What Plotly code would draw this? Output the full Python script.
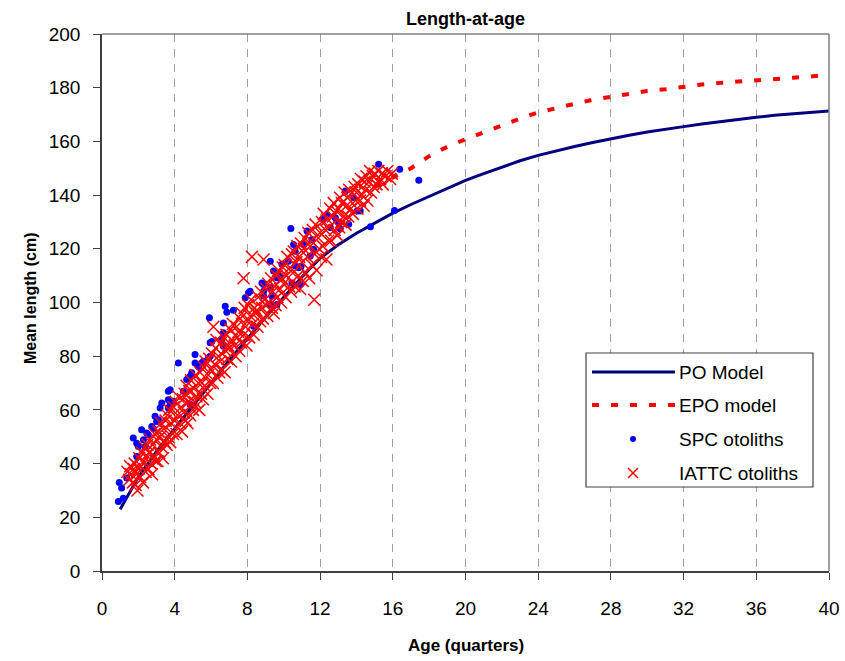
import plotly.graph_objects as go

# ---------------- data ----------------
po_age = list(range(1, 41))
po_len = [23, 35, 44.5, 53, 61.5, 70, 78.5, 86.5, 94.5, 102, 109.5, 116.5,
          121.5, 125.8, 129.5, 133.3, 136.5, 139.5, 142.5, 145.5, 148, 150.5,
          152.8, 154.8, 156.5, 158.1, 159.6, 161, 162.3, 163.5, 164.6, 165.5,
          166.5, 167.4, 168.2, 169, 169.7, 170.3, 170.8, 171.3]

epo_age = list(range(15, 41))
epo_len = [143, 146.5, 150, 154.5, 158, 160.8, 163.5, 166, 168.5, 170.8,
           172.5, 174, 175.5, 176.5, 177.8, 178.8, 179.4, 180.4, 181.2, 181.8,
           182.2, 182.8, 183.2, 183.7, 184.2, 184.8]

spc_age = [0.90, 1.17, 0.95, 1.08, 1.36, 1.72, 1.91, 2.00, 1.91, 2.18, 2.28, 2.37,
           2.46, 2.55, 2.74, 2.83, 2.92, 3.01, 3.10, 3.20, 3.29, 3.65, 3.75, 3.65,
           3.65, 3.75, 3.93, 4.20, 4.48, 4.66, 4.75, 4.85, 4.94, 4.85, 5.12, 5.12,
           5.31, 5.49, 5.58, 5.86, 5.95, 5.95, 5.91, 6.04, 6.59, 6.68, 6.68, 6.78,
           6.87, 6.68, 7.23, 7.88, 8.06, 8.15, 8.34, 8.80, 8.89, 8.89, 8.89, 9.26,
           9.44, 9.63, 9.90, 9.35, 9.26, 9.63, 9.26, 9.81, 10.26, 10.45, 10.39, 10.54,
           10.63, 10.63, 10.82, 10.91, 10.95, 11.09, 11.28, 11.55, 11.46, 11.64, 12.19, 12.38,
           12.56, 12.84, 13.02, 13.11, 13.57, 13.39, 13.85, 14.03, 14.21, 14.77, 15.22, 16.09,
           16.38, 17.43]
spc_len = [25.9, 27.1, 33.0, 30.9, 34.6, 49.5, 47.6, 46.4, 42.6, 52.6, 48.9, 46.4,
           51.4, 50.7, 53.8, 53.0, 57.6, 55.7, 56.3, 60.7, 62.6, 66.9, 67.5, 63.8,
           60.7, 62.0, 63.2, 77.5, 66.9, 71.3, 71.9, 72.5, 73.8, 62.0, 80.6, 77.5,
           76.2, 77.5, 78.1, 79.4, 85.0, 80.0, 94.3, 85.5, 86.2, 83.7, 92.4, 98.6,
           96.4, 88.7, 97.1, 101.8, 103.6, 104.2, 91.2, 107.3, 102.4, 104.2, 106.7, 115.4,
           111.7, 109.2, 114.2, 102.4, 99.3, 99.3, 105.5, 109.8, 115.4, 107.3, 127.6, 121.6,
           113.6, 119.1, 112.9, 106.7, 113.5, 121.6, 126.6, 123.5, 117.3, 119.8, 131.0, 132.8,
           127.9, 131.6, 129.7, 127.5, 129.1, 141.5, 139.0, 134.1, 134.1, 128.2, 151.5, 134.3,
           149.6, 145.5]

iattc_age = [1.4, 1.5, 1.55, 1.6, 1.7, 1.75, 1.8, 1.85, 1.9, 1.95, 2.0,
             2.05, 2.1, 2.15, 2.2, 2.25, 2.3, 2.35, 2.4, 2.45,
             2.5, 2.55, 2.6, 2.65, 2.7, 2.75, 2.8, 2.85, 2.9, 2.95,
             3.0, 3.05, 3.1, 3.15, 3.2, 3.25, 3.3, 3.35, 3.4, 3.45,
             3.5, 3.55, 3.6, 3.65, 3.7, 3.75, 3.8, 3.9, 3.95,
             4.0, 4.05, 4.1, 4.15, 4.2, 4.3, 4.35, 4.4, 4.45,
             4.5, 4.55, 4.6, 4.65, 4.7, 4.75, 4.8, 4.85, 4.9, 4.95,
             5.0, 5.05, 5.1, 5.15, 5.2, 5.3, 5.35, 5.4, 5.45,
             5.5, 5.55, 5.6, 5.65, 5.7, 5.8, 5.85, 5.9, 5.95,
             6.0, 6.05, 6.1, 6.13, 6.2, 6.25, 6.3, 6.35, 6.4, 6.45,
             6.5, 6.55, 6.6, 6.7, 6.75, 6.8, 6.85, 6.9, 6.95,
             7.0, 7.05, 7.1, 7.15, 7.2, 7.3, 7.35, 7.4, 7.45,
             7.5, 7.55, 7.6, 7.65, 7.7, 7.79, 7.8, 7.85, 7.9, 7.95,
             8.0, 8.05, 8.1, 8.15, 8.25, 8.2, 8.3, 8.35, 8.4, 8.45,
             8.5, 8.55, 8.6, 8.7, 8.75, 8.8, 8.89, 8.85, 8.95,
             9.0, 9.05, 9.1, 9.15, 9.2, 9.3, 9.35, 9.4, 9.45,
             9.5, 9.55, 9.6, 9.65, 9.7, 9.8, 9.85, 9.9, 9.95,
             10.0, 10.05, 10.1, 10.15, 10.2, 10.3, 10.35, 10.4, 10.45,
             10.5, 10.55, 10.6, 10.7, 10.75, 10.8, 10.85, 10.9, 10.95,
             11.0, 11.05, 11.1, 11.15, 11.2, 11.3, 11.35, 11.4, 11.45,
             11.5, 11.55, 11.6, 11.68, 11.7, 11.75, 11.8, 11.9, 11.95,
             12.0, 12.05, 12.1, 12.15, 12.2, 12.3, 12.35, 12.4, 12.45,
             12.5, 12.55, 12.6, 12.7, 12.75, 12.8, 12.9, 12.95,
             13.0, 13.05, 13.1, 13.15, 13.2, 13.3, 13.35, 13.4, 13.45,
             13.5, 13.55, 13.6, 13.7, 13.75, 13.8, 13.9, 13.95,
             14.0, 14.05, 14.1, 14.2, 14.25, 14.3, 14.4, 14.45,
             14.5, 14.55, 14.6, 14.7, 14.75, 14.8, 14.9, 14.95,
             15.0, 15.1, 15.2, 15.3, 15.4, 15.45,
             15.6, 15.7, 15.85, 15.95]
iattc_len = [37, 34, 39, 36, 33, 38, 40, 32, 36, 30, 38,
             42, 35, 39, 44, 33, 41, 46, 37, 43,
             47, 38, 44, 49, 40, 36, 47, 43, 51, 41,
             49, 41, 52, 44, 50, 55, 46, 42, 53, 48,
             56, 47, 58, 50, 60, 48, 55, 51, 61,
             56, 63, 51, 58, 65, 55, 61, 52, 64,
             59, 66, 56, 69, 55, 63, 67, 58, 71, 62,
             60, 68, 63, 73, 65, 70, 60, 74, 66,
             70, 64, 76, 69, 78, 66, 73, 79, 70,
             75, 81, 70, 91, 77, 83, 86, 72, 80, 74,
             78, 85, 75, 87, 74, 82, 88, 79, 84,
             83, 90, 78, 86, 92, 84, 80, 91, 87,
             89, 82, 94, 85, 96, 109, 88, 98, 91, 84,
             93, 99, 87, 95, 117, 101, 92, 88, 98, 96,
             97, 91, 102, 93, 104, 98, 116, 94, 101,
             99, 105, 95, 107, 100, 109, 98, 104, 96,
             106, 99, 110, 102, 112, 105, 100, 109, 113,
             107, 114, 102, 110, 117, 106, 113, 104, 118,
             111, 119, 106, 115, 121, 110, 117, 105, 122,
             115, 108, 120, 124, 111, 117, 126, 109, 121,
             123, 114, 127, 101, 118, 129, 112, 124, 120,
             126, 117, 130, 121, 133, 127, 116, 131, 123,
             128, 135, 123, 132, 137, 127, 134, 125,
             135, 128, 139, 130, 137, 132, 141, 129, 136,
             139, 132, 142, 135, 141, 133, 143, 138,
             141, 135, 144, 138, 146, 140, 136, 145,
             142, 147, 138, 145, 149, 141, 147, 143,
             148, 144, 149, 146, 148, 144,
             147, 149, 146, 148]

x_ticks = [0, 4, 8, 12, 16, 20, 24, 28, 32, 36, 40]
y_ticks = [0, 20, 40, 60, 80, 100, 120, 140, 160, 180, 200]
legend_names = ["PO Model", "EPO model", "SPC otoliths", "IATTC otoliths"]

FONT = "Arial, Liberation Sans, sans-serif"
NAVY = "#000080"
RED = "#FF0000"
BLUE = "#0000FF"

fig = go.Figure()
fig.add_trace(go.Scatter(x=po_age, y=po_len, mode="lines", name=legend_names[0],
                         line=dict(color=NAVY, width=3)))
fig.add_trace(go.Scatter(x=epo_age, y=epo_len, mode="lines", name=legend_names[1],
                         line=dict(color=RED, width=4, dash="7px,12px")))
fig.add_trace(go.Scatter(x=spc_age, y=spc_len, mode="markers", name=legend_names[2],
                         marker=dict(symbol="circle", size=7, color=BLUE, line=dict(width=0))))
fig.add_trace(go.Scatter(x=iattc_age, y=iattc_len, mode="markers", name=legend_names[3],
                         marker=dict(symbol="x-thin", size=12, color=RED,
                                     line=dict(color=RED, width=1.5))))

# plot area in pixels: left 102, right 829, top 34, bottom 571
L, R, T, B = 102, 829, 34, 571
W, H = 845, 661
def px(xp):
    return (xp - L) / (R - L)
def py(yp):
    return (B - yp) / (B - T)

shapes = []
shapes.append(dict(type="line", xref="paper", yref="paper", x0=0, x1=1, y0=1, y1=1,
                   line=dict(color="#808080", width=1.5)))
shapes.append(dict(type="line", xref="paper", yref="paper", x0=1, x1=1, y0=0, y1=1,
                   line=dict(color="#808080", width=1.5)))
# legend box
shapes.append(dict(type="rect", xref="paper", yref="paper", x0=px(586), x1=px(813),
                   y0=py(487), y1=py(353), fillcolor="white",
                   line=dict(color="#404040", width=1.2), layer="above"))
rows_y = [372, 405, 439, 473]
shapes.append(dict(type="line", xref="paper", yref="paper", x0=px(592), x1=px(675),
                   y0=py(rows_y[0]), y1=py(rows_y[0]), line=dict(color=NAVY, width=3),
                   layer="above"))
shapes.append(dict(type="line", xref="paper", yref="paper", x0=px(592), x1=px(675),
                   y0=py(rows_y[1]), y1=py(rows_y[1]),
                   line=dict(color=RED, width=4, dash="7px,12px"), layer="above"))
shapes.append(dict(type="circle", xref="paper", yref="paper", xsizemode="pixel",
                   ysizemode="pixel", xanchor=px(633), yanchor=py(rows_y[2]),
                   x0=-3, x1=3, y0=-3, y1=3, fillcolor=BLUE, line=dict(width=0),
                   layer="above"))
for s in (1, -1):
    shapes.append(dict(type="line", xref="paper", yref="paper", xsizemode="pixel",
                       ysizemode="pixel", xanchor=px(633), yanchor=py(rows_y[3]),
                       x0=-5, x1=5, y0=-5 * s, y1=5 * s,
                       line=dict(color=RED, width=1.5), layer="above"))

annotations = []
for name, ry in zip(legend_names, rows_y):
    annotations.append(dict(text=name, xref="paper", yref="paper", x=px(677), y=py(ry),
                            xanchor="left", yanchor="middle", showarrow=False,
                            font=dict(family=FONT, size=19, color="black")))
annotations.append(dict(text="<b>Length-at-age</b>", xref="paper", yref="paper",
                        x=0.5, y=py(19), xanchor="center", yanchor="middle",
                        showarrow=False, font=dict(family=FONT, size=18, color="black")))
annotations.append(dict(text="<b>Age (quarters)</b>", xref="paper", yref="paper",
                        x=0.5, y=py(645), xanchor="center", yanchor="middle",
                        showarrow=False, font=dict(family=FONT, size=17, color="black")))
annotations.append(dict(text="<b>Mean length (cm)</b>", xref="paper", yref="paper",
                        x=px(30), y=py(298), xanchor="center", yanchor="middle",
                        textangle=-90, showarrow=False,
                        font=dict(family=FONT, size=16, color="black")))

fig.update_layout(
    width=W, height=H, autosize=False,
    margin=dict(l=L, r=W - R, t=T, b=H - B, pad=0, autoexpand=False),
    paper_bgcolor="white", plot_bgcolor="white",
    showlegend=False,
    shapes=shapes, annotations=annotations,
    font=dict(family=FONT, color="black"),
)
fig.update_xaxes(range=[0, 40], tickvals=x_ticks, ticktext=[str(v) for v in x_ticks],
                 ticks="outside", ticklen=7, tickwidth=1.2, tickcolor="#404040",
                 showline=True, linecolor="#404040", linewidth=1.5,
                 showgrid=True, gridcolor="#A0A0A0", gridwidth=1, griddash="8px,7px",
                 zeroline=False, tickfont=dict(family=FONT, size=19, color="black"),
                 ticklabelstandoff=12, fixedrange=True, automargin=False)
fig.update_yaxes(range=[0, 200], tickvals=y_ticks, ticktext=[str(v) for v in y_ticks],
                 ticks="outside", ticklen=7, tickwidth=1.2, tickcolor="#404040",
                 showline=True, linecolor="#404040", linewidth=1.5,
                 showgrid=False, zeroline=False,
                 tickfont=dict(family=FONT, size=19, color="black"),
                 ticklabelstandoff=9, fixedrange=True, automargin=False)

fig.write_html("out.html",
               config={"displayModeBar": False, "responsive": False},
               post_script="document.body.style.margin='0px';document.body.style.overflow='hidden';")
